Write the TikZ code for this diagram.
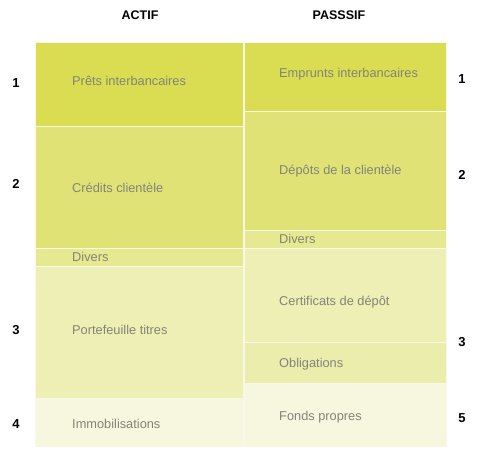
\documentclass[tikz,border=0pt]{standalone}
\usepackage{fontspec}
\setmainfont{Liberation Sans}
\definecolor{bankA}{RGB}{218,220,82}
\definecolor{bankB}{RGB}{224,226,118}
\definecolor{bankC}{RGB}{231,233,145}
\definecolor{bankD}{RGB}{237,239,180}
\definecolor{bankDo}{RGB}{235,237,172}
\definecolor{bankE}{RGB}{246,247,222}
\definecolor{lblgray}{RGB}{132,132,120}
\definecolor{sepline}{RGB}{248,248,232}
\begin{document}
\begin{tikzpicture}[x=1pt,y=-1pt,
  box/.style={draw=sepline,line width=1pt,anchor=north west,inner sep=0pt},
  lbl/.style={anchor=west,inner sep=0pt,text=lblgray,font=\fontsize{12.8}{15}\selectfont},
  num/.style={inner sep=0pt,font=\fontsize{13}{15}\selectfont\bfseries},
  head/.style={inner sep=0pt,font=\fontsize{12.5}{15}\selectfont\bfseries}]
  \useasboundingbox (0,0) rectangle (480,452);
  % colonne actif
  \node[box,fill=bankA,minimum width=208,minimum height=84] (pret) at (35,42){};
  \node[box,fill=bankB,minimum width=208,minimum height=122] (cred) at (35,126){};
  \node[box,fill=bankC,minimum width=208,minimum height=18] (divl) at (35,248){};
  \node[box,fill=bankD,minimum width=208,minimum height=132] (port) at (35,266){};
  \node[box,fill=bankE,minimum width=208,minimum height=48] (immo) at (35,398){};
  % colonne passif
  \node[box,fill=bankA,minimum width=202,minimum height=69] (empr) at (244,42){};
  \node[box,fill=bankB,minimum width=202,minimum height=119] (depo) at (244,111){};
  \node[box,fill=bankC,minimum width=202,minimum height=18] (divr) at (244,230){};
  \node[box,fill=bankD,minimum width=202,minimum height=94] (cert) at (244,248){};
  \node[box,fill=bankDo,minimum width=202,minimum height=41] (obli) at (244,342){};
  \node[box,fill=bankE,minimum width=202,minimum height=63] (fond) at (244,383){};
  % libelles
  \node[lbl] (tpret) at (72,81){Prêts interbancaires};
  \node[lbl] (tcred) at (72,188){Crédits clientèle};
  \node[lbl] (tdivl) at (72,257){Divers};
  \node[lbl] (tport) at (72,330){Portefeuille titres};
  \node[lbl] (timmo) at (72,424){Immobilisations};
  \node[lbl] (tempr) at (279,74){Emprunts interbancaires};
  \node[lbl] (tdepo) at (279,171){Dépôts de la clientèle};
  \node[lbl] (tdivr) at (279,239){Divers};
  \node[lbl] (tcert) at (279,302){Certificats de dépôt};
  \node[lbl] (tobli) at (279,364){Obligations};
  \node[lbl] (tfond) at (279,417){Fonds propres};
  % titres et numeros
  \node[head] (actif) at (140,15){ACTIF};
  \node[head] (passif) at (339,15){PASSSIF};
  \node[num] (nl1) at (16,83){1};
  \node[num] (nl2) at (16,184){2};
  \node[num] (nl3) at (16,330){3};
  \node[num] (nl4) at (16,424){4};
  \node[num] (nr1) at (462,79){1};
  \node[num] (nr2) at (462,175){2};
  \node[num] (nr3) at (462,342){3};
  \node[num] (nr5) at (462,418){5};
\end{tikzpicture}
\end{document}
